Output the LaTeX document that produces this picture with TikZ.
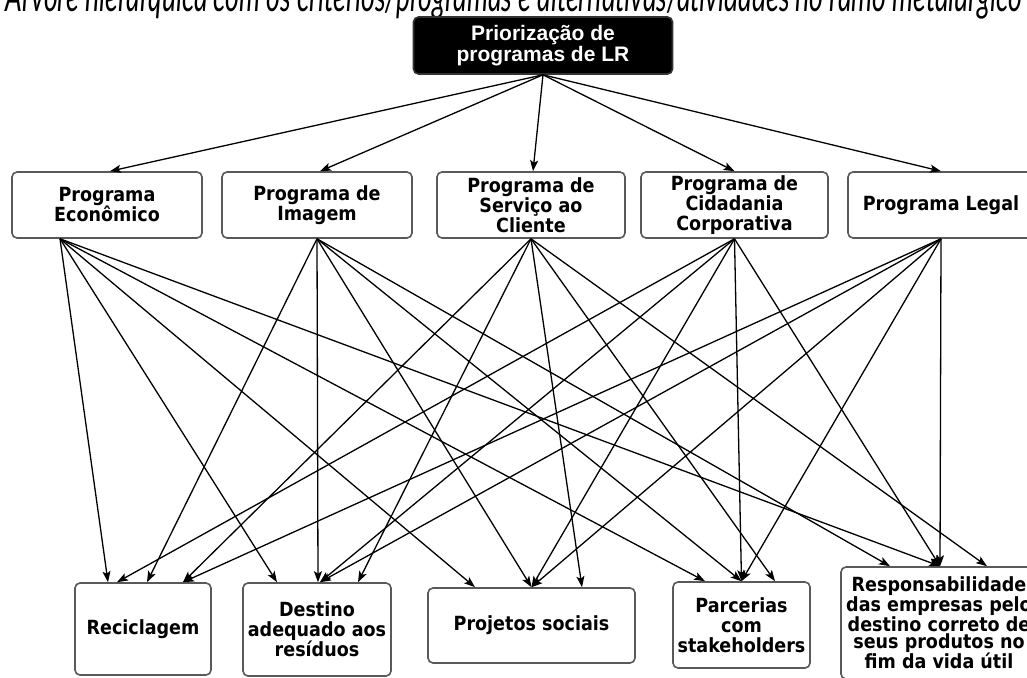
\documentclass[tikz,border=0pt]{standalone}
\usepackage{fontspec}
\setmainfont{DejaVu Sans}
\newfontfamily\lblfont{DejaVu Sans Condensed Bold}
\newfontfamily\topfont{Liberation Sans}
\newfontfamily\titlefont{Lato}
\usetikzlibrary{arrows.meta}
\begin{document}
\begin{tikzpicture}[x=1pt,y=-1pt,
  box/.style={draw=black!65, line width=1.6pt, rounded corners=5pt, fill=white,
    align=center, inner sep=0pt, text=black, font=\lblfont\fontsize{19.5}{20}\selectfont},
  arr/.style={draw=black, line width=1.3pt, -{Stealth[length=11pt,width=8pt,inset=2.5pt]}}]
\useasboundingbox (0,0) rectangle (1027,677);
\fill[white] (0,0) rectangle (1027,677);
% title (cut at top)
\node[anchor=base, inner sep=0pt] (title) at (514,12)
  {\scalebox{1}[1.6]{\resizebox{1016pt}{!}{\titlefont\itshape Árvore hierárquica com os critérios/programas e alternativas/atividades no ramo metalúrgico}}};
% root
\node[box, fill=black, draw=black!80, text=white,
  font=\topfont\bfseries\fontsize{21}{21}\selectfont,
  minimum width=259pt, minimum height=57pt] (top) at (543,45.5) {Priorização de\\programas de LR};
% programs
\node[box, minimum width=190pt, minimum height=66pt] (eco) at (107,205) {Programa\\Econômico};
\node[box, minimum width=190pt, minimum height=66pt] (img) at (317,205) {Programa de\\Imagem};
\node[box, minimum width=188pt, minimum height=66pt] (ser) at (531,205) {Programa de\\Serviço ao\\Cliente};
\node[box, minimum width=187pt, minimum height=66pt] (cid) at (734.5,205) {Programa de\\Cidadania\\Corporativa};
\node[box, minimum width=186pt, minimum height=66pt] (leg) at (941,205) {Programa Legal};
% activities
\node[box, minimum width=136pt, minimum height=92pt] (rec) at (143,629) {Reciclagem};
\node[box, minimum width=148pt, minimum height=93pt] (des) at (317,629.5) {Destino\\adequado aos\\resíduos};
\node[box, minimum width=207pt, minimum height=75pt] (pro) at (531.5,625.5) {Projetos sociais};
\node[box, minimum width=137pt, minimum height=86pt] (par) at (741.5,625) {Parcerias\\com\\stakeholders};
\node[box, minimum width=196pt, minimum height=112pt, font=\lblfont\fontsize{19.5}{17}\selectfont] (res) at (939,623)
  {Responsabilidade\\das empresas pelo\\destino correto de\\seus produtos no\\fim da vida útil};
% root -> programs
\draw[arr] (top.south) -- ([xshift=3pt]eco.north);
\draw[arr] (top.south) -- ([xshift=3pt]img.north);
\draw[arr] (top.south) -- ([xshift=2pt]ser.north);
\draw[arr] (top.south) -- (cid.north);
\draw[arr] (top.south) -- (leg.north);
% Economico
\draw[arr] ([xshift=-47pt]eco.south) -- ([xshift=-35pt]rec.north);
\draw[arr] ([xshift=-47pt]eco.south) -- ([xshift=-40pt]des.north);
\draw[arr] ([xshift=-47pt]eco.south) -- ([xshift=-56.5pt]pro.north);
\draw[arr] ([xshift=-47pt]eco.south) -- ([xshift=-36.5pt]par.north);
\draw[arr] ([xshift=-47pt]eco.south) -- ([xshift=1pt]res.north);
% Imagem
\draw[arr] (img.south) -- ([xshift=4pt]rec.north);
\draw[arr] (img.south) -- ([xshift=1pt]des.north);
\draw[arr] (img.south) -- (pro.north);
\draw[arr] (img.south) -- (par.north);
\draw[arr] (img.south) -- ([xshift=-49pt]res.north);
% Servico
\draw[arr] (ser.south) -- ([xshift=40pt]rec.north);
\draw[arr] (ser.south) -- ([xshift=41pt]des.north);
\draw[arr] (ser.south) -- ([xshift=50.5pt]pro.north);
\draw[arr] (ser.south) -- ([xshift=33.5pt]par.north);
\draw[arr] (ser.south) -- ([xshift=48pt]res.north);
% Cidadania
\draw[arr] (cid.south) -- ([xshift=-26pt]rec.north);
\draw[arr] (cid.south) -- ([xshift=3pt]des.north);
\draw[arr] (cid.south) -- (pro.north);
\draw[arr] (cid.south) -- (par.north);
\draw[arr] (cid.south) -- ([xshift=1pt]res.north);
% Legal
\draw[arr] (leg.south) -- ([xshift=40pt]rec.north);
\draw[arr] (leg.south) -- ([xshift=3pt]des.north);
\draw[arr] (leg.south) -- (pro.north);
\draw[arr] (leg.south) -- (par.north);
\draw[arr] (leg.south) -- ([xshift=1pt]res.north);
\end{tikzpicture}
\end{document}
